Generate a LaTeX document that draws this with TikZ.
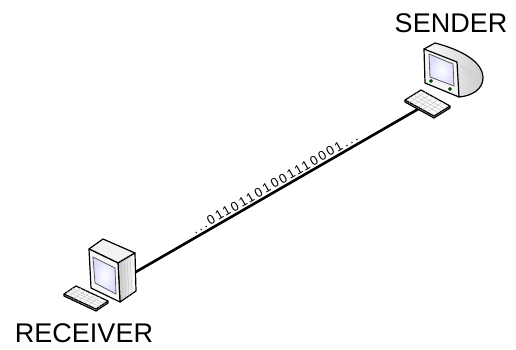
\documentclass[tikz,border=0pt]{standalone}
\usepackage{fontspec}
\setmainfont{Liberation Sans}
\usetikzlibrary{calc,positioning}

\tikzset{
  outline/.style={draw=black,line width=1.2pt,line join=round},
  keygrid/.style={draw=gray!45,line width=0.5pt},
  link/.style={draw=black,line width=2.6pt},
  hostname/.style={font=\fontsize{27}{27}\selectfont,inner sep=0pt},
  bits/.style={font=\fontsize{13}{13}\selectfont\addfontfeature{LetterSpace=17},
    sloped,anchor=south west,inner sep=1.5pt},
  screen/.style={draw=gray!70!black,line width=0.8pt,inner color=white,outer color=blue!14}
}

% flat keyboard from its four top corners: left, top, right, bottom
\newcommand{\keyboard}[4]{%
  \fill[gray!55] #1 -- ($#1+(0,2)$) -- ($#4+(0,2)$) -- ($#3+(0,2)$) -- #3 -- #4 -- cycle;
  \draw[outline] #1 -- ($#1+(0,2)$) -- ($#4+(0,2)$) -- ($#3+(0,2)$) -- #3;
  \draw[outline,fill=gray!5] #1 -- #2 -- #3 -- #4 -- cycle;
  \foreach \f in {0.3,0.5,0.7}
    \draw[keygrid] ($#1!\f!#2$) -- ($#4!\f!#3$);
  \foreach \f in {0.15,0.3,...,0.9}
    \draw[keygrid] ($#1!\f!#4$) -- ($#2!\f!#3$);
}

\begin{document}
\begin{tikzpicture}[x=1pt,y=-1pt]
  \useasboundingbox (0,0) rectangle (516,349);

  % names
  \node[hostname] (sender) at (451,23) {SENDER};
  \node[hostname] (receiver) at (84,333) {RECEIVER};

  % cable
  \coordinate (rxport) at (134,273);
  \coordinate (txport) at (420,108);
  \draw[link] (rxport) -- node[bits,pos=0.21] {...01101101001110001...} (txport);

  % sender: rounded back shell
  \draw[outline,left color=white,right color=gray!40]
    (424,49) -- (435,43) .. controls (462,50) and (483,62) .. (483,78)
    .. controls (483,89) and (472,96) .. (459,97) -- cycle;
  \foreach \d in {0,3,6}
    \draw[gray!45] (460+\d,66+\d) -- (468+\d,69+\d) -- (468+\d,78+\d);
  % sender: bezel, screen, lamps
  \draw[outline,fill=gray!8] (424,49) -- (457,62) -- (459,97) -- (425,83) -- cycle;
  \draw[screen] (429,54) -- (453,64) -- (454,86) -- (430,77) -- cycle;
  \draw[fill=green!55!black,line width=0.5pt] (431,81) circle (1.6);
  \draw[fill=green!55!black,line width=0.5pt] (450,89) circle (1.6);
  \keyboard{(405,100)}{(421,90)}{(450,106)}{(434,116)}

  % receiver: box monitor
  \draw[outline,fill=gray!10] (89,249) -- (103,239) -- (135,253) -- (118,263) -- cycle;
  \draw[outline,left color=gray!45,right color=white]
    (118,263) -- (135,253) -- (136,291) -- (120,302) -- cycle;
  \foreach \d in {3,6,9,12}
    \draw[gray!50] (118+\d,263-\d*0.6) -- (120+\d,302-\d*0.65);
  \draw[outline,fill=gray!6] (89,249) -- (118,263) -- (120,302) -- (91,288) -- cycle;
  \draw[screen] (93,257) -- (115,268) -- (116,294) -- (95,283) -- cycle;
  \keyboard{(64,294)}{(76,286)}{(108,301)}{(96,309)}
\end{tikzpicture}
\end{document}
